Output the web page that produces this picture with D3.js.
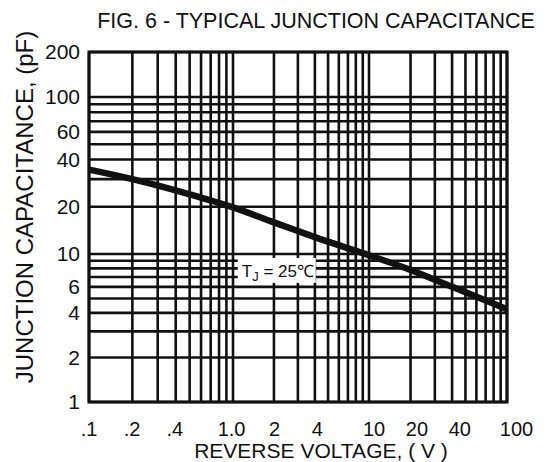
<!DOCTYPE html>
<html>
<head>
<meta charset="utf-8">
<script src="https://cdn.jsdelivr.net/npm/d3@7"></script>
<style>
  html, body { margin: 0; padding: 0; background: #fff; }
  svg { display: block; font-family: "Liberation Sans", Arial, Helvetica, sans-serif; }
</style>
</head>
<body>
<svg id="chart" width="556" height="462"></svg>
<script>
// ---- data ----
const voltage     = [0.1, 0.2, 0.5, 1, 2, 3, 4, 10, 20, 40, 100];
const capacitance = [34.5, 30, 24, 19.8, 15.9, 14.0, 12.8, 9.8, 7.8, 6.0, 4.24];
const xTickValues = [0.1, 0.2, 0.4, 1, 2, 4, 10, 20, 40, 100];
const xTickLabels = [".1", ".2", ".4", "1.0", "2", "4", "10", "20", "40", "100"];
const yTickValues = [1, 2, 4, 6, 10, 20, 40, 60, 100, 200];
const yTickLabels = ["1", "2", "4", "6", "10", "20", "40", "60", "100", "200"];
const xGridValues = [0.1,0.2,0.3,0.4,0.5,0.6,0.7,0.8,0.9,1,2,3,4,5,6,7,8,9,10,20,30,40,50,60,70,80,90,100];
const yGridValues = [1,2,3,4,5,6,7,8,9,10,20,30,40,50,60,70,80,90,100,200];
const title = "FIG. 6 - TYPICAL JUNCTION CAPACITANCE";
const xTitle = "REVERSE VOLTAGE, ( V )";
const yTitle = "JUNCTION CAPACITANCE, (pF)";

// ---- layout ----
const svg = d3.select("#chart");
const L = 89, R = 507, T = 52, B = 402;
const ink = "#111";

const x = d3.scaleLog().domain([0.1, 1, 10, 100]).range([L, 233, 369, R]);
const y = d3.scaleLog().domain([1, 10, 100, 200]).range([B, 254, 97, T]);
const xLabelScale = d3.scaleLog().domain([0.1, 100]).range([88.6, 516]);

// grid
const grid = svg.append("g").attr("stroke", ink).attr("stroke-width", 2.6);
grid.selectAll("line.v").data(xGridValues).join("line")
  .attr("class", "v")
  .attr("x1", d => x(d)).attr("x2", d => x(d))
  .attr("y1", T).attr("y2", B);
grid.selectAll("line.h").data(yGridValues).join("line")
  .attr("class", "h")
  .attr("x1", L).attr("x2", R)
  .attr("y1", d => y(d)).attr("y2", d => y(d));

// frame
svg.append("rect")
  .attr("x", L).attr("y", T).attr("width", R - L).attr("height", B - T)
  .attr("fill", "none").attr("stroke", ink).attr("stroke-width", 3);

// curve
const pts = voltage.map((v, i) => [v, capacitance[i]]);
svg.append("path")
  .datum(pts)
  .attr("fill", "none")
  .attr("stroke", ink)
  .attr("stroke-width", 6.5)
  .attr("d", d3.line().x(d => x(d[0])).y(d => y(d[1])).curve(d3.curveMonotoneX));

// annotation
const ann = svg.append("g");
const annX = x(1.16), annY = y(7.0);
ann.append("rect")
  .attr("x", annX - 4).attr("y", annY - 19).attr("width", 78).attr("height", 25)
  .attr("fill", "#fff");
const annText = ann.append("text")
  .attr("x", annX).attr("y", annY)
  .attr("font-size", 17).attr("fill", ink);
annText.append("tspan").text("T");
annText.append("tspan").attr("dy", 4).attr("font-size", 13).text("J");
annText.append("tspan").attr("dy", -4).text(" = 25\u2103");

// axes
const xAxis = svg.append("g")
  .attr("transform", `translate(0,${B})`)
  .call(d3.axisBottom(xLabelScale).tickValues(xTickValues)
    .tickFormat((d, i) => xTickLabels[i]).tickSize(0).tickPadding(20));
xAxis.select(".domain").remove();
xAxis.selectAll("text").attr("font-size", 20).attr("fill", ink)
  .attr("font-family", "Liberation Sans, Arial, sans-serif");

const yAxis = svg.append("g")
  .attr("transform", `translate(${L},0)`)
  .call(d3.axisLeft(y).tickValues(yTickValues)
    .tickFormat((d, i) => yTickLabels[i]).tickSize(0).tickPadding(9));
yAxis.select(".domain").remove();
yAxis.selectAll("text").attr("font-size", 21).attr("fill", ink)
  .attr("font-family", "Liberation Sans, Arial, sans-serif");

// titles
svg.append("text")
  .attr("x", 316).attr("y", 28)
  .attr("text-anchor", "middle")
  .attr("font-size", 21.5).attr("fill", ink)
  .text(title);

svg.append("text")
  .attr("x", 321).attr("y", 458)
  .attr("text-anchor", "middle")
  .attr("font-size", 21).attr("fill", ink)
  .text(xTitle);

svg.append("text")
  .attr("transform", "translate(33,207) rotate(-90)")
  .attr("text-anchor", "middle")
  .attr("font-size", 24).attr("fill", ink)
  .text(yTitle);
</script>
</body>
</html>
